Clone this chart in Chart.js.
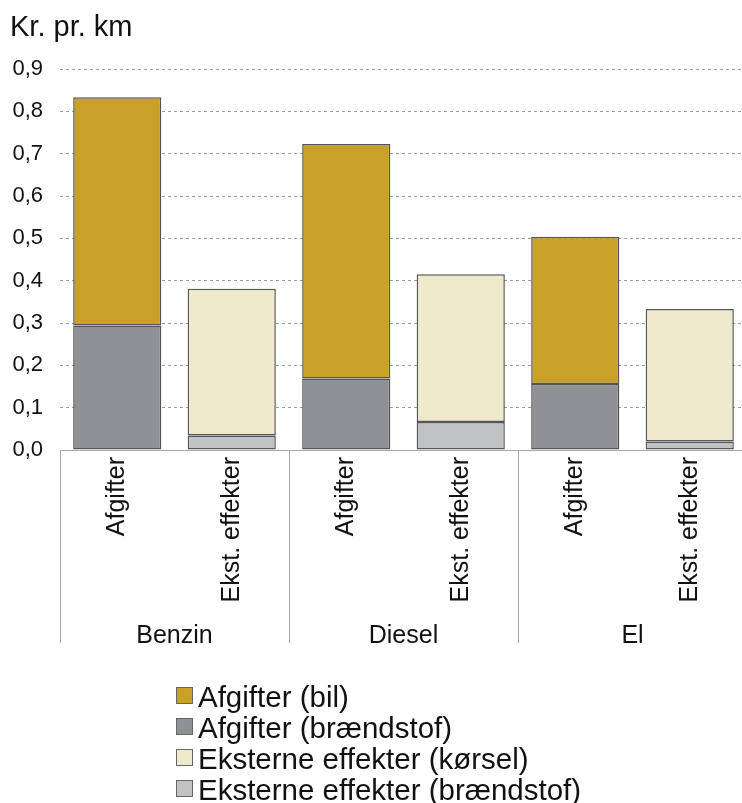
<!DOCTYPE html>
<html>
<head>
<meta charset="utf-8">
<script src="https://cdn.jsdelivr.net/npm/chart.js@4.4.1/dist/chart.umd.min.js"></script>
<style>
  body { margin: 0; overflow: hidden; background: #fff; font-family: "Liberation Sans", Arial, sans-serif; }
  #titel { position: absolute; left: 10px; top: 12px; font-size: 29px; line-height: 29px; color: #111; }
  #boks { position: absolute; left: 0; top: 0; width: 750px; height: 803px; }
  #legende { position: absolute; left: 176px; top: 681px; font-size: 29.5px; color: #111; }
  #legende div { height: 31px; line-height: 31px; white-space: nowrap; }
  #legende span.farve { display: inline-block; width: 15px; height: 15px; border: 1px solid #666; margin-right: 5px; vertical-align: 3px; }
</style>
</head>
<body>
<div id="boks"><canvas id="graf" width="750" height="803"></canvas></div>
<div id="titel">Kr. pr. km</div>
<div id="legende"></div>
<script>
// data
const kategorier = ["Afgifter", "Ekst. effekter", "Afgifter", "Ekst. effekter", "Afgifter", "Ekst. effekter"];
const grupper = ["Benzin", "Diesel", "El"];
const afgBraendstof = [0.294, null, 0.169, null, 0.156, null];
const ekstBraendstof = [null, 0.034, null, 0.066, null, 0.020];
const afgBil = [0.539, null, 0.554, null, 0.348, null];
const ekstKoersel = [null, 0.347, null, 0.349, null, 0.313];
const yTicks = [0, 0.1, 0.2, 0.3, 0.4, 0.5, 0.6, 0.7, 0.8, 0.9];

const serier = [
  { label: "Afgifter (brændstof)", data: afgBraendstof, farve: "#8f9194" },
  { label: "Eksterne effekter (brændstof)", data: ekstBraendstof, farve: "#c1c2c4" },
  { label: "Afgifter (bil)", data: afgBil, farve: "#c8a126" },
  { label: "Eksterne effekter (kørsel)", data: ekstKoersel, farve: "#efeacb" }
];
const legendeRaekke = [2, 0, 3, 1];

const aksePlugin = {
  id: "aksePlugin",
  afterDraw(chart) {
    const ctx = chart.ctx;
    const x = chart.scales.x;
    const top = chart.chartArea.bottom;
    const bredde = x.getPixelForValue(1) - x.getPixelForValue(0);
    ctx.save();
    ctx.strokeStyle = "#a8a8a8";
    ctx.lineWidth = 1;
    ctx.beginPath();
    ctx.moveTo(x.left, top + 0.5);
    ctx.lineTo(x.right, top + 0.5);
    for (let g = 0; g <= grupper.length; g++) {
      const px = Math.round(x.getPixelForValue(g * 2) - bredde / 2) + 0.5;
      ctx.moveTo(px, top);
      ctx.lineTo(px, top + 193);
    }
    ctx.stroke();

    ctx.fillStyle = "#111";
    ctx.font = "25px 'Liberation Sans', Arial, sans-serif";
    kategorier.forEach((k, i) => {
      ctx.save();
      ctx.translate(x.getPixelForValue(i), top + 7);
      ctx.rotate(-Math.PI / 2);
      ctx.textAlign = "right";
      ctx.textBaseline = "middle";
      ctx.fillText(k, 0, 0);
      ctx.restore();
    });
    ctx.textAlign = "center";
    ctx.textBaseline = "alphabetic";
    grupper.forEach((g, i) => {
      const px = (x.getPixelForValue(i * 2) + x.getPixelForValue(i * 2 + 1)) / 2;
      ctx.fillText(g, px, top + 193);
    });
    ctx.restore();
  }
};

const graf = new Chart(document.getElementById("graf"), {
  type: "bar",
  data: {
    labels: kategorier,
    datasets: serier.map(s => ({
      label: s.label,
      data: s.data,
      backgroundColor: s.farve,
      borderColor: "#555",
      borderWidth: 1.5,
      borderSkipped: false,
      categoryPercentage: 1,
      barPercentage: 0.77
    }))
  },
  options: {
    responsive: false,
    animation: false,
    layout: { padding: { top: 69, left: 0, right: 3, bottom: 163 } },
    plugins: { legend: { display: false }, tooltip: { enabled: false } },
    scales: {
      x: {
        stacked: true,
        grid: { display: false },
        border: { display: false },
        ticks: { display: false },
        afterFit: s => { s.height = 190; }
      },
      y: {
        stacked: true,
        min: 0,
        max: 0.9,
        afterFit: s => { s.width = 60; },
        afterBuildTicks: s => { s.ticks = yTicks.map(v => ({ value: v })); },
        border: { display: false, dash: [3, 3] },
        grid: { color: "#9a9a9a", drawTicks: false },
        ticks: {
          padding: 17,
          color: "#111",
          font: { family: "'Liberation Sans', Arial, sans-serif", size: 22 },
          callback: v => v.toFixed(1).replace(".", ",")
        }
      }
    }
  },
  plugins: [aksePlugin]
});

const legende = document.getElementById("legende");
legendeRaekke.forEach(i => {
  const d = graf.data.datasets[i];
  const r = document.createElement("div");
  r.innerHTML = `<span class="farve" style="background:${d.backgroundColor}"></span>${d.label}`;
  legende.appendChild(r);
});
</script>
</body>
</html>
